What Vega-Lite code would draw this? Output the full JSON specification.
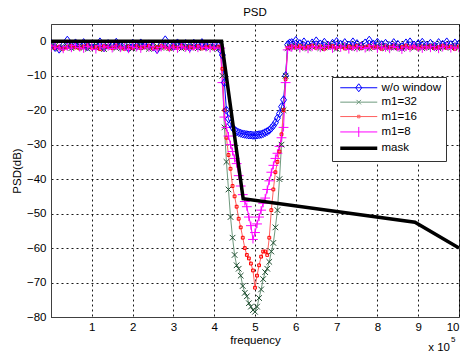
{
  "$schema": "https://vega.github.io/schema/vega-lite/v6.json",
  "width": 408,
  "height": 293,
  "autosize": {"type": "none"},
  "padding": {"left": 51, "top": 24, "right": 4, "bottom": 40},
  "title": {"text": "PSD", "font": "Liberation Sans", "fontSize": 11.5, "fontWeight": "normal", "color": "#000", "offset": 6, "anchor": "middle"},
  "config": {
    "font": "Liberation Sans",
    "view": {"stroke": "#404040", "strokeWidth": 1},
    "axis": {
      "labelFont": "Liberation Sans", "labelFontSize": 11.5, "labelColor": "#000", "labelOverlap": false,
      "titleFont": "Liberation Sans", "titleFontSize": 11.5, "titleFontWeight": "normal", "titleColor": "#000",
      "domainColor": "#404040", "gridColor": "#000", "gridDash": [2, 3], "gridOpacity": 0.9, "ticks": false
    }
  },
  "datasets": {
    "psd": [
      {"f": 0.0, "w": -0.6, "m32": -1.8, "m16": -1.5, "m8": -2.0},
      {"f": 0.1, "w": -1.8, "m32": -1.3, "m16": -2.0, "m8": -1.4},
      {"f": 0.2, "w": -2.3, "m32": -2.1, "m16": -1.6, "m8": -1.9},
      {"f": 0.3, "w": -1.2, "m32": -1.6, "m16": -2.2, "m8": -2.3},
      {"f": 0.4, "w": 0.3, "m32": -1.4, "m16": -1.7, "m8": -1.6},
      {"f": 0.5, "w": -1.5, "m32": -2.0, "m16": -1.3, "m8": -2.0},
      {"f": 0.6, "w": -0.5, "m32": -1.7, "m16": -1.8, "m8": -1.2},
      {"f": 0.7, "w": -1.1, "m32": -1.2, "m16": -2.1, "m8": -1.8},
      {"f": 0.8, "w": -0.4, "m32": -1.9, "m16": -1.5, "m8": -2.2},
      {"f": 0.9, "w": -1.6, "m32": -2.2, "m16": -1.2, "m8": -1.5},
      {"f": 1.0, "w": -0.8, "m32": -1.5, "m16": -1.9, "m8": -1.7},
      {"f": 1.1, "w": -1.3, "m32": -1.1, "m16": -1.6, "m8": -2.4},
      {"f": 1.2, "w": -0.2, "m32": -1.8, "m16": -2.3, "m8": -1.3},
      {"f": 1.3, "w": -1.9, "m32": -2.3, "m16": -1.4, "m8": -1.9},
      {"f": 1.4, "w": -0.7, "m32": -1.4, "m16": -1.7, "m8": -1.6},
      {"f": 1.5, "w": -1.2, "m32": -1.6, "m16": -2.0, "m8": -2.1},
      {"f": 1.6, "w": -0.3, "m32": -2.0, "m16": -1.3, "m8": -1.4},
      {"f": 1.7, "w": -1.5, "m32": -1.3, "m16": -1.8, "m8": -2.0},
      {"f": 1.8, "w": -0.9, "m32": -1.9, "m16": -2.2, "m8": -1.7},
      {"f": 1.9, "w": -2.0, "m32": -1.5, "m16": -1.5, "m8": -2.3},
      {"f": 2.0, "w": -0.6, "m32": -2.1, "m16": -1.9, "m8": -1.5},
      {"f": 2.1, "w": -1.4, "m32": -1.7, "m16": -1.4, "m8": -1.8},
      {"f": 2.2, "w": -0.5, "m32": -1.2, "m16": -2.0, "m8": -2.2},
      {"f": 2.3, "w": -1.1, "m32": -1.8, "m16": -1.6, "m8": -1.3},
      {"f": 2.4, "w": -0.8, "m32": -2.2, "m16": -1.3, "m8": -1.9},
      {"f": 2.5, "w": -1.7, "m32": -1.6, "m16": -2.1, "m8": -1.6},
      {"f": 2.6, "w": -2.4, "m32": -1.4, "m16": -1.7, "m8": -2.5},
      {"f": 2.7, "w": -0.9, "m32": -1.9, "m16": -1.4, "m8": -1.8},
      {"f": 2.8, "w": 0.4, "m32": -1.5, "m16": -1.8, "m8": -1.4},
      {"f": 2.9, "w": -1.0, "m32": -2.0, "m16": -2.2, "m8": -2.0},
      {"f": 3.0, "w": -1.6, "m32": -1.7, "m16": -1.5, "m8": -1.7},
      {"f": 3.1, "w": -0.5, "m32": -1.3, "m16": -1.9, "m8": -2.2},
      {"f": 3.2, "w": -1.2, "m32": -2.1, "m16": -1.3, "m8": -1.5},
      {"f": 3.3, "w": -0.7, "m32": -1.6, "m16": -2.0, "m8": -1.9},
      {"f": 3.4, "w": -1.9, "m32": -1.8, "m16": -1.6, "m8": -2.3},
      {"f": 3.5, "w": -0.6, "m32": -1.4, "m16": -1.8, "m8": -1.6},
      {"f": 3.6, "w": -1.3, "m32": -2.0, "m16": -1.4, "m8": -2.0},
      {"f": 3.7, "w": -0.4, "m32": -1.7, "m16": -2.1, "m8": -1.4},
      {"f": 3.8, "w": -1.5, "m32": -1.2, "m16": -1.7, "m8": -1.8},
      {"f": 3.9, "w": -0.8, "m32": -1.9, "m16": -1.5, "m8": -2.1},
      {"f": 4.0, "w": -1.1, "m32": -1.6, "m16": -2.0, "m8": -1.7},
      {"f": 4.1, "w": -1.4, "m32": -2.2, "m16": -1.6, "m8": -2.0},
      {"f": 4.15, "w": -2.5, "m32": -1.8, "m16": -1.6, "m8": -2.0},
      {"f": 4.2, "w": -4, "m32": -10, "m16": -8, "m8": -12},
      {"f": 4.25, "w": -12, "m32": -25, "m16": -20, "m8": -22},
      {"f": 4.3, "w": -20, "m32": -35, "m16": -28, "m8": -25},
      {"f": 4.35, "w": -22.5, "m32": -43, "m16": -33, "m8": -27.5},
      {"f": 4.4, "w": -24, "m32": -51, "m16": -37, "m8": -30},
      {"f": 4.45, "w": -25, "m32": -57, "m16": -42, "m8": -32},
      {"f": 4.5, "w": -25.8, "m32": -62, "m16": -45, "m8": -34},
      {"f": 4.55, "w": -26.2, "m32": -65, "m16": -48, "m8": -35.5},
      {"f": 4.6, "w": -26.5, "m32": -66, "m16": -51.5, "m8": -39},
      {"f": 4.65, "w": -26.7, "m32": -68, "m16": -54, "m8": -42},
      {"f": 4.7, "w": -26.9, "m32": -71, "m16": -57, "m8": -44.5},
      {"f": 4.75, "w": -27, "m32": -73, "m16": -60, "m8": -46.5},
      {"f": 4.8, "w": -27.1, "m32": -74, "m16": -62, "m8": -48},
      {"f": 4.85, "w": -27.2, "m32": -76, "m16": -63, "m8": -51},
      {"f": 4.9, "w": -27.2, "m32": -77, "m16": -64.5, "m8": -53.5},
      {"f": 4.95, "w": -27.3, "m32": -78, "m16": -66.5, "m8": -57.5},
      {"f": 5.0, "w": -27.3, "m32": -78.5, "m16": -71.5, "m8": -55.5},
      {"f": 5.05, "w": -27.2, "m32": -77, "m16": -68, "m8": -53},
      {"f": 5.1, "w": -27.1, "m32": -74.5, "m16": -65, "m8": -51},
      {"f": 5.15, "w": -27, "m32": -72, "m16": -62.5, "m8": -49},
      {"f": 5.2, "w": -26.8, "m32": -69, "m16": -61, "m8": -47},
      {"f": 5.25, "w": -26.5, "m32": -67, "m16": -61, "m8": -45.5},
      {"f": 5.3, "w": -26.2, "m32": -66, "m16": -62, "m8": -43},
      {"f": 5.35, "w": -25.8, "m32": -64, "m16": -57, "m8": -40.5},
      {"f": 5.4, "w": -25.2, "m32": -61, "m16": -49, "m8": -38},
      {"f": 5.45, "w": -24.5, "m32": -58.5, "m16": -43, "m8": -36},
      {"f": 5.5, "w": -23.6, "m32": -54, "m16": -38, "m8": -34},
      {"f": 5.55, "w": -22.3, "m32": -49, "m16": -35, "m8": -32.5},
      {"f": 5.6, "w": -21, "m32": -40, "m16": -32, "m8": -30.5},
      {"f": 5.65, "w": -19, "m32": -30, "m16": -27, "m8": -28},
      {"f": 5.7, "w": -17, "m32": -20, "m16": -20, "m8": -25},
      {"f": 5.75, "w": -10, "m32": -10, "m16": -11, "m8": -12},
      {"f": 5.8, "w": -1, "m32": -2, "m16": -2, "m8": -2.5},
      {"f": 5.85, "w": -0.5, "m32": -1.6, "m16": -1.8, "m8": -1.7},
      {"f": 5.9, "w": -0.4, "m32": -1.7, "m16": -1.5, "m8": -1.9},
      {"f": 6.0, "w": 0.2, "m32": -1.3, "m16": -1.8, "m8": -1.4},
      {"f": 6.1, "w": -0.7, "m32": -1.9, "m16": -1.4, "m8": -2.1},
      {"f": 6.2, "w": -0.2, "m32": -1.5, "m16": -2.0, "m8": -1.6},
      {"f": 6.3, "w": -1.0, "m32": -2.1, "m16": -1.6, "m8": -2.3},
      {"f": 6.4, "w": -0.5, "m32": -1.6, "m16": -1.3, "m8": -1.7},
      {"f": 6.5, "w": 0.1, "m32": -1.4, "m16": -1.9, "m8": -1.5},
      {"f": 6.6, "w": -0.8, "m32": -2.0, "m16": -1.5, "m8": -2.0},
      {"f": 6.7, "w": -0.3, "m32": -1.8, "m16": -2.2, "m8": -1.8},
      {"f": 6.8, "w": -1.2, "m32": -1.2, "m16": -1.7, "m8": -1.3},
      {"f": 6.9, "w": -0.6, "m32": -1.7, "m16": -1.4, "m8": -2.2},
      {"f": 7.0, "w": -0.1, "m32": -2.2, "m16": -1.9, "m8": -1.6},
      {"f": 7.1, "w": -0.9, "m32": -1.5, "m16": -1.6, "m8": -1.9},
      {"f": 7.2, "w": -0.4, "m32": -1.3, "m16": -2.1, "m8": -1.4},
      {"f": 7.3, "w": -1.1, "m32": -1.9, "m16": -1.5, "m8": -2.4},
      {"f": 7.4, "w": -0.2, "m32": -1.6, "m16": -1.8, "m8": -1.7},
      {"f": 7.5, "w": -0.7, "m32": -2.0, "m16": -1.3, "m8": -2.0},
      {"f": 7.6, "w": -1.4, "m32": -1.4, "m16": -2.0, "m8": -1.5},
      {"f": 7.7, "w": -0.5, "m32": -1.8, "m16": -1.7, "m8": -2.1},
      {"f": 7.8, "w": 0.3, "m32": -2.1, "m16": -1.4, "m8": -1.8},
      {"f": 7.9, "w": -0.8, "m32": -1.5, "m16": -1.9, "m8": -1.3},
      {"f": 8.0, "w": -0.3, "m32": -1.7, "m16": -1.6, "m8": -2.2},
      {"f": 8.1, "w": -1.0, "m32": -1.3, "m16": -2.2, "m8": -1.6},
      {"f": 8.2, "w": -0.6, "m32": -2.0, "m16": -1.5, "m8": -1.9},
      {"f": 8.3, "w": -1.3, "m32": -1.6, "m16": -1.8, "m8": -2.3},
      {"f": 8.4, "w": -0.4, "m32": -1.9, "m16": -1.4, "m8": -1.5},
      {"f": 8.5, "w": -0.9, "m32": -1.4, "m16": -2.0, "m8": -1.8},
      {"f": 8.6, "w": -1.6, "m32": -2.2, "m16": -1.7, "m8": -2.5},
      {"f": 8.7, "w": -0.5, "m32": -1.7, "m16": -1.3, "m8": -1.7},
      {"f": 8.8, "w": -0.2, "m32": -1.5, "m16": -1.9, "m8": -2.0},
      {"f": 8.9, "w": -1.1, "m32": -1.9, "m16": -1.6, "m8": -1.4},
      {"f": 9.0, "w": -0.7, "m32": -1.3, "m16": -2.1, "m8": -1.9},
      {"f": 9.1, "w": -0.3, "m32": -2.0, "m16": -1.5, "m8": -2.2},
      {"f": 9.2, "w": -1.2, "m32": -1.6, "m16": -1.8, "m8": -1.6},
      {"f": 9.3, "w": -0.6, "m32": -1.8, "m16": -1.4, "m8": -2.0},
      {"f": 9.4, "w": -1.5, "m32": -1.4, "m16": -2.0, "m8": -1.5},
      {"f": 9.5, "w": -0.4, "m32": -2.1, "m16": -1.7, "m8": -2.3},
      {"f": 9.6, "w": -0.9, "m32": -1.7, "m16": -1.3, "m8": -1.8},
      {"f": 9.7, "w": -0.2, "m32": -1.5, "m16": -1.9, "m8": -1.4},
      {"f": 9.8, "w": -1.0, "m32": -1.9, "m16": -1.6, "m8": -2.1},
      {"f": 9.9, "w": -0.5, "m32": -1.3, "m16": -2.2, "m8": -1.7},
      {"f": 10.0, "w": -0.8, "m32": -1.8, "m16": -1.5, "m8": -2.0}
    ],
    "mask": [
      {"f": 0, "psd": 0, "key": "mask"},
      {"f": 4.18, "psd": 0, "key": "mask"},
      {"f": 4.71, "psd": -45.7, "key": "mask"},
      {"f": 8.92, "psd": -52.5, "key": "mask"},
      {"f": 10, "psd": -60, "key": "mask"}
    ]
  },
  "layer": [
    {
      "data": {"name": "psd"},
      "transform": [{"fold": ["w", "m32", "m16", "m8"], "as": ["key", "psd"]}],
      "encoding": {
        "x": {"field": "f", "type": "quantitative", "title": "frequency", "scale": {"domain": [0, 10], "nice": false, "zero": false}, "axis": {"values": [1, 2, 3, 4, 5, 6, 7, 8, 9, 10], "labelPadding": 4, "titlePadding": 2}},
        "y": {"field": "psd", "type": "quantitative", "title": "PSD(dB)", "scale": {"domain": [-80, 5], "nice": false}, "axis": {"values": [-80, -70, -60, -50, -40, -30, -20, -10, 0], "labelPadding": 5, "titlePadding": 4}}
      },
      "layer": [
        {
          "mark": {"type": "line", "strokeWidth": 1, "clip": true},
          "encoding": {
            "color": {
              "field": "key", "type": "nominal",
              "scale": {"domain": ["w", "m32", "m16", "m8", "mask"], "range": ["#0000ff", "#6f9a7e", "#ff6060", "#ff00ff", "#000000"]},
              "legend": {
                "title": null, "orient": "none", "legendX": 281, "legendY": 53,
                "fillColor": "#ffffff", "strokeColor": "#333333", "padding": 5,
                "symbolSize": 100, "symbolOffset": 16, "labelOffset": 17,
                "labelFontSize": 11.5, "labelFont": "Liberation Sans", "labelColor": "#000",
                "rowPadding": 1.4,
                "labelExpr": "{'w':'w/o window','m32':'m1=32','m16':'m1=16','m8':'m1=8','mask':'mask'}[datum.label]",
                "encode": {"symbols": {"update": {
                  "shape": {"signal": "datum.value === 'w' ? 'M-3.7,0H3.7M0,-0.8L0.6,0L0,0.8L-0.6,0Z' : datum.value === 'm32' ? 'M-3.7,0H3.7M-0.45,-0.45L0.45,0.45M-0.45,0.45L0.45,-0.45' : datum.value === 'm16' ? 'M-3.7,0H3.7M-0.25,-0.25H0.25V0.25H-0.25Z' : datum.value === 'm8' ? 'M-3.7,0H3.7M0,-1V1' : 'M-3.7,0H3.7'"},
                  "strokeWidth": {"signal": "datum.value === 'mask' ? 3.5 : 1"},
                  "fill": {"value": "transparent"},
                  "opacity": {"value": 1}
                }}}
              }
            }
          }
        },
        {
          "mark": {"type": "point", "filled": false, "size": 49, "strokeWidth": 1, "opacity": 1, "clip": true},
          "encoding": {
            "shape": {"field": "key", "type": "nominal", "scale": {"domain": ["w", "m32", "m16", "m8"], "range": ["M0,-1.15L0.85,0L0,1.15L-0.85,0Z", "M-0.8,-0.8L0.8,0.8M-0.8,0.8L0.8,-0.8", "M-0.4,-0.4H0.4V0.4H-0.4Z", "M-1.4,0H1.4M0,-1.15V1.15"]}, "legend": null},
            "stroke": {"field": "key", "type": "nominal", "scale": {"domain": ["w", "m32", "m16", "m8"], "range": ["#0000ff", "#1f4d30", "#ff0000", "#ff00ff"]}, "legend": null}
          }
        }
      ]
    },
    {
      "data": {"name": "mask"},
      "mark": {"type": "line", "strokeWidth": 3.5, "clip": true},
      "encoding": {
        "x": {"field": "f", "type": "quantitative", "title": "frequency", "axis": {"values": [1, 2, 3, 4, 5, 6, 7, 8, 9, 10], "labelPadding": 4, "titlePadding": 2}},
        "y": {"field": "psd", "type": "quantitative", "title": "PSD(dB)", "axis": {"values": [-80, -70, -60, -50, -40, -30, -20, -10, 0], "labelPadding": 5, "titlePadding": 4}},
        "color": {"field": "key", "type": "nominal", "scale": {"domain": ["w", "m32", "m16", "m8", "mask"], "range": ["#0000ff", "#6f9a7e", "#ff6060", "#ff00ff", "#000000"]}}
      }
    },
    {
      "data": {"values": [{"t": "x 10"}]},
      "mark": {"type": "text", "align": "right", "baseline": "middle", "dx": -9, "dy": 31, "fontSize": 11.5, "font": "Liberation Sans", "color": "#000"},
      "encoding": {
        "x": {"datum": 10, "type": "quantitative", "title": "frequency", "axis": {"values": [1, 2, 3, 4, 5, 6, 7, 8, 9, 10], "labelPadding": 4, "titlePadding": 2}},
        "y": {"datum": -80, "type": "quantitative", "title": "PSD(dB)", "axis": {"values": [-80, -70, -60, -50, -40, -30, -20, -10, 0], "labelPadding": 5, "titlePadding": 4}},
        "text": {"field": "t"}
      }
    },
    {
      "data": {"values": [{"t": "5"}]},
      "mark": {"type": "text", "align": "left", "baseline": "middle", "dx": -8, "dy": 23, "fontSize": 8, "font": "Liberation Sans", "color": "#000"},
      "encoding": {
        "x": {"datum": 10, "type": "quantitative", "title": "frequency", "axis": {"values": [1, 2, 3, 4, 5, 6, 7, 8, 9, 10], "labelPadding": 4, "titlePadding": 2}},
        "y": {"datum": -80, "type": "quantitative", "title": "PSD(dB)", "axis": {"values": [-80, -70, -60, -50, -40, -30, -20, -10, 0], "labelPadding": 5, "titlePadding": 4}},
        "text": {"field": "t"}
      }
    }
  ]
}
